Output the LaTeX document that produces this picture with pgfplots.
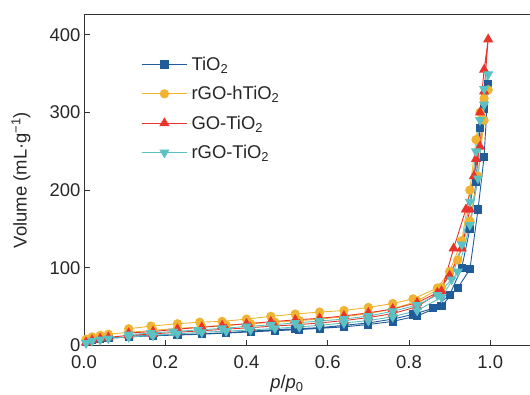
\documentclass[border=0pt]{standalone}
\usepackage{pgfplots}
\pgfplotsset{compat=1.18}
\usepackage{fontspec}
\setmainfont{Liberation Sans}
\definecolor{cblue}{HTML}{215C9A}
\definecolor{corange}{HTML}{F0B432}
\definecolor{cred}{HTML}{E8342B}
\definecolor{ccyan}{HTML}{5CC1C3}
\newcommand{\fs}{\fontsize{18.5}{22}\selectfont}
\begin{document}
\begin{tikzpicture}
\begin{axis}[
  name=ax,
  scale only axis,
  width=446bp, height=331bp,
  xmin=0, xmax=1.098, ymin=0, ymax=426,
  axis x line=box, axis y line=left,
  axis line style={-, line width=1pt, black!80},
  tick align=inside,
  xtick pos=bottom, ytick pos=left,
  major tick length=6bp,
  tick style={line width=0.8pt, black!80},
  xtick={0,0.2,0.4,0.6,0.8,1.0},
  ytick={0,100,200,300,400},
  every tick label/.append style={font=\fs, text=black!85},
  xticklabel style={yshift=-7bp, /pgf/number format/.cd,fixed,fixed zerofill,precision=1},
  /pgf/number format/assume math mode=true,
  xlabel={\textit{p}/\textit{p}\textsubscript{0}},
  ylabel={Volume (mL·g\textsuperscript{−1})},
  label style={font=\fs, text=black!85},
  xlabel style={at={(rel axis cs:0.455,0)}, anchor=north, yshift=-26bp},
  ylabel style={at={(rel axis cs:0,0.5)}, anchor=south, xshift=0bp, yshift=50bp},
  legend style={draw=none, fill=none, font=\fs, text=black!85,
    at={(rel axis cs:0.128,0.878)}, anchor=north west,
    row sep=10.5bp, inner sep=0pt,
    /tikz/every even column/.append style={column sep=0pt},
    /tikz/every odd column/.append style={column sep=2bp}},
  legend cell align=left,
  legend image code/.code={\draw[mark repeat=2,mark phase=2] plot coordinates {(0cm,0cm)(0.8cm,0cm)(1.6cm,0cm)};},
  every axis plot/.append style={line width=0.9pt},
  clip=false,
]
\addplot[cblue, mark=square*, mark size=3.6pt, mark options={fill=cblue}] coordinates {
(0.005,5)(0.02,7)(0.04,8.5)(0.06,9.5)(0.11,11)(0.17,12.5)(0.23,13.5)(0.29,14.5)(0.35,16)(0.41,17.5)(0.47,19)(0.53,20.5)(0.58,22)(0.64,24)(0.70,27)(0.76,31)(0.82,38)(0.88,51)(0.92,74)(0.95,98)(0.97,175)(0.985,243)(0.995,336)
(0.985,304)(0.975,280)(0.965,210)(0.95,150)(0.93,100)(0.90,65)(0.86,48)(0.81,40)(0.76,34)(0.70,29)(0.64,26)(0.58,23)(0.52,21.5)(0.47,20.5)(0.41,18.5)(0.35,16.5)(0.29,15)(0.23,14)(0.17,13)(0.11,12)
};
\addlegendentry{TiO\textsubscript{2}}
\addplot[corange, mark=*, mark size=4.2pt, mark options={fill=corange}] coordinates {
(0.005,8)(0.02,11)(0.04,13)(0.06,14.5)(0.11,17)(0.17,19.5)(0.23,22)(0.29,24)(0.35,26)(0.41,28)(0.47,30)(0.53,32)(0.58,34)(0.64,37)(0.70,41)(0.76,47)(0.82,57)(0.88,75)(0.92,110)(0.95,160)(0.97,218)(0.985,290)(0.995,329)
(0.985,318)(0.975,300)(0.965,265)(0.95,200)(0.93,135)(0.90,95)(0.87,74)(0.81,60)(0.76,54)(0.70,49)(0.64,45)(0.58,43)(0.52,40.5)(0.46,37.5)(0.40,34)(0.34,31)(0.285,30)(0.23,28)(0.165,25)(0.11,21.5)
};
\addlegendentry{rGO-hTiO\textsubscript{2}}
\addplot[cred, mark=triangle*, mark size=5pt, mark options={fill=cred}] coordinates {
(0.005,4)(0.02,7)(0.04,9)(0.06,10.5)(0.11,13)(0.17,15)(0.23,17)(0.29,19)(0.35,21)(0.41,23)(0.47,25)(0.53,27)(0.58,29)(0.64,32)(0.70,36)(0.76,41)(0.82,50)(0.88,70)(0.91,125)(0.94,175)(0.96,218)(0.975,256)(0.985,327)(0.995,394)
(0.985,355)(0.975,300)(0.965,240)(0.95,175)(0.93,125)(0.90,90)(0.87,68)(0.82,55)(0.76,47)(0.70,42)(0.64,38)(0.58,35)(0.52,33)(0.46,30.5)(0.40,28)(0.34,25.5)(0.29,23.5)(0.23,21)(0.17,18)(0.11,16)
};
\addlegendentry{GO-TiO\textsubscript{2}}
\addplot[ccyan, mark=triangle*, mark size=5pt, mark options={fill=ccyan, rotate=180}] coordinates {
(0.005,3)(0.02,6)(0.04,7.5)(0.06,9)(0.11,11)(0.17,13)(0.23,15)(0.29,17)(0.35,18.5)(0.41,20)(0.47,22)(0.53,24)(0.58,26)(0.64,29)(0.70,32)(0.76,37)(0.82,45)(0.88,62)(0.92,95)(0.95,155)(0.97,215)(0.985,310)(0.995,349)
(0.985,330)(0.975,290)(0.965,250)(0.95,185)(0.93,130)(0.905,85)(0.87,65)(0.82,52)(0.76,44)(0.70,38)(0.64,34)(0.58,31.5)(0.52,29)(0.46,26.5)(0.40,24.5)(0.34,22)(0.28,20)(0.22,18)(0.165,16)(0.11,14)
};
\addlegendentry{rGO-TiO\textsubscript{2}}
\end{axis}
\pgfresetboundingbox
\useasboundingbox ([xshift=-84bp,yshift=-49bp]ax.south west) rectangle ([yshift=14.5bp]ax.north east);
\end{tikzpicture}
\end{document}
